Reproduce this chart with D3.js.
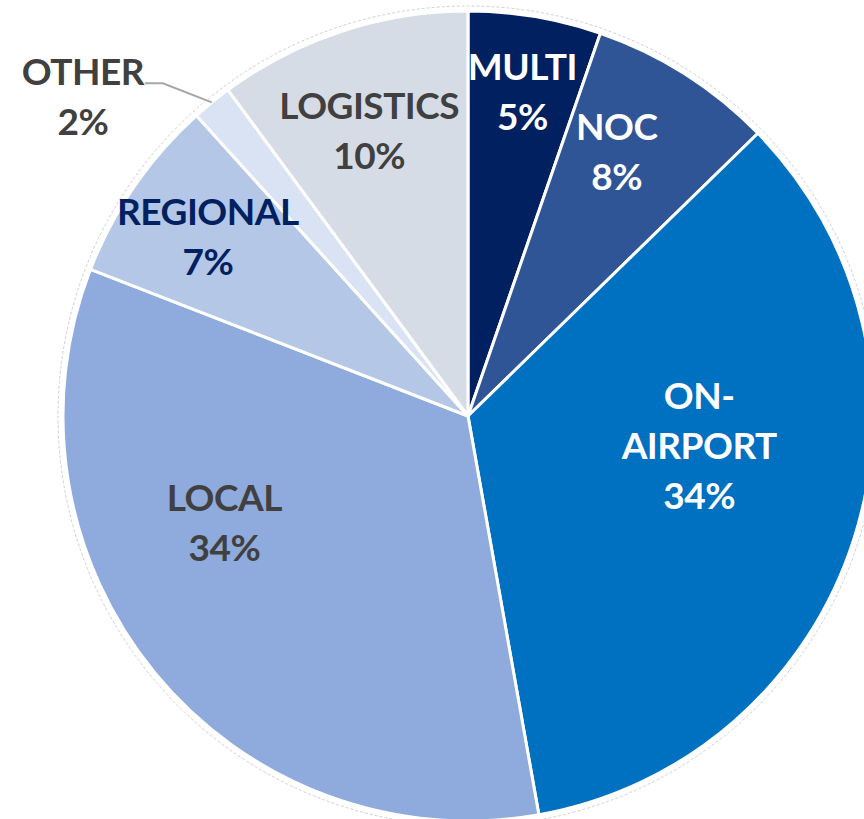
<!DOCTYPE html>
<html>
<head>
<meta charset="utf-8">
<script src="https://cdn.jsdelivr.net/npm/d3@7"></script>
<style>
html,body{margin:0;padding:0;background:#fff;}
.lbl{font-family:Lato,"Open Sans",sans-serif;font-weight:700;letter-spacing:-0.5px;}
</style>
</head>
<body>
<div id="chart"></div>
<script>
var w = 864;
var h = 819;

// slices, clockwise from 12 o'clock
var categories = ["MULTI", "NOC", "ON-AIRPORT", "LOCAL", "REGIONAL", "OTHER", "LOGISTICS"];
var shares = [5.3, 7.4, 34.5, 33.7, 7.4, 1.6, 10.1];
var pctLabels = ["5%", "8%", "34%", "34%", "7%", "2%", "10%"];
var labelLines = [["MULTI"], ["NOC"], ["ON-", "AIRPORT"], ["LOCAL"], ["REGIONAL"], ["OTHER"], ["LOGISTICS"]];

var fills = ["#002060", "#2f5597", "#0070c0", "#8faadc", "#b4c7e7", "#dae3f3", "#d6dce5"];
var textColors = ["#ffffff", "#ffffff", "#ffffff", "#404040", "#002060", "#404040", "#404040"];

// nudges off the centroid, like the hand-dragged labels in the original
var labelShift = {
  "MULTI": [4, -24],
  "NOC": [-14, -8],
  "ON-AIRPORT": [-58, -63],
  "LOCAL": [-9, -86],
  "REGIONAL": [-10, -7],
  "LOGISTICS": [-4, 4]
};

var cx = 468, cy = 416;
var radius = 405;
var fontSize = 37;
var lineH = 50;

var svg = d3.select("#chart").append("svg")
  .attr("width", w)
  .attr("height", h);

var g = svg.append("g")
  .attr("transform", "translate(" + cx + "," + cy + ")");

var data = categories.map(function(c, i){
  return {name: c, value: shares[i], pct: pctLabels[i], lines: labelLines[i], fill: fills[i], color: textColors[i]};
});

var pie = d3.pie()
  .sort(null)
  .value(function(d){ return d.value; });

var arc = d3.arc().innerRadius(0).outerRadius(radius);
var labelArc = d3.arc().innerRadius(radius * 0.75).outerRadius(radius * 0.75);
var edgeArc = d3.arc().innerRadius(radius).outerRadius(radius);

var arcs = pie(data);

// faint outline around the pie
g.append("circle")
  .attr("r", radius + 5)
  .attr("fill", "none")
  .attr("stroke", "#d0d0d0")
  .attr("stroke-width", 1)
  .attr("stroke-dasharray", "3,2");

g.selectAll("path.slice")
  .data(arcs)
  .enter().append("path")
  .attr("class", "slice")
  .attr("d", arc)
  .attr("fill", function(d){ return d.data.fill; })
  .attr("stroke", "#ffffff")
  .attr("stroke-width", 3)
  .attr("stroke-linejoin", "round");

function drawLabel(x, y, d){
  var lines = d.data.lines.concat([d.data.pct]);
  var top = y - (lines.length - 1) * lineH / 2;
  var t = g.append("text")
    .attr("class", "lbl")
    .attr("text-anchor", "middle")
    .attr("fill", d.data.color)
    .style("font-size", fontSize + "px");
  lines.forEach(function(s, i){
    t.append("tspan")
      .attr("x", x)
      .attr("y", top + i * lineH)
      .attr("dy", "0.35em")
      .text(s);
  });
}

arcs.forEach(function(d){
  if(d.data.name === "OTHER"){
    // outside label with leader line
    var p = edgeArc.centroid(d);
    var elbow = [p[0] - 49, p[1] - 19];
    g.append("polyline")
      .attr("points", [p, elbow, [elbow[0] - 18, elbow[1]]].map(function(q){ return q.join(","); }).join(" "))
      .attr("fill", "none")
      .attr("stroke", "#a6a6a6")
      .attr("stroke-width", 2);
    drawLabel(elbow[0] - 80, elbow[1] + 14, d);
    return;
  }
  var c = labelArc.centroid(d);
  var s = labelShift[d.data.name] || [0, 0];
  drawLabel(c[0] + s[0], c[1] + s[1], d);
});
</script>
</body>
</html>
